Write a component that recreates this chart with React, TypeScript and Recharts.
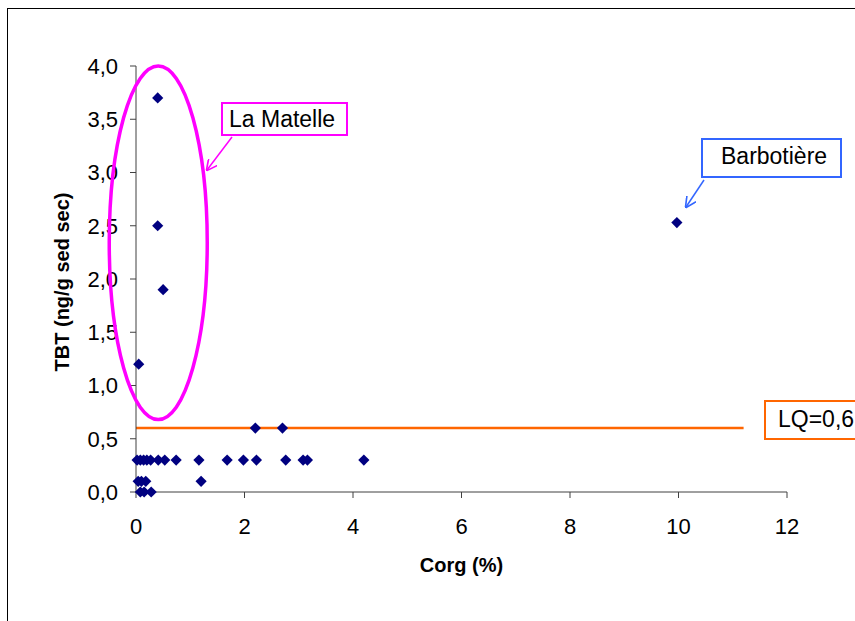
import { ScatterChart, Scatter, XAxis, YAxis, ReferenceLine } from "recharts";

// Corg (%) vs TBT (ng/g sed sec), one entry per sample
const corg = [
  0.02, 0.08, 0.14, 0.2, 0.27, 0.41, 0.53, 0.74, 1.16, 1.68, 1.98, 2.22, 2.76, 3.08, 3.16, 4.2,
  2.2, 2.7,
  0.04, 0.1, 0.18, 1.2,
  0.08, 0.15, 0.28,
  0.4, 0.4, 0.5, 0.05,
  9.97,
];
const tbt = [
  0.3, 0.3, 0.3, 0.3, 0.3, 0.3, 0.3, 0.3, 0.3, 0.3, 0.3, 0.3, 0.3, 0.3, 0.3, 0.3,
  0.6, 0.6,
  0.1, 0.1, 0.1, 0.1,
  0, 0, 0,
  3.7, 2.5, 1.9, 1.2,
  2.53,
];
const xTicks = [0, 2, 4, 6, 8, 10, 12];
const yTicks = [0, 0.5, 1, 1.5, 2, 2.5, 3, 3.5, 4];
const lq = 0.6;
const lqEnd = 11.2;

const points = corg.map((x, i) => ({ x, y: tbt[i] }));

const W = 855;
const H = 621;
const M = { top: 66, right: 68, left: 56, bottom: 99 };
const Y_AXIS_W = 80;
const X_AXIS_H = 30;
const FONT = "'Liberation Sans', Arial, sans-serif";

// same mapping the chart uses, for the hand-drawn callouts
const plotX0 = M.left + Y_AXIS_W;
const plotX1 = W - M.right;
const plotY0 = M.top;
const plotY1 = H - M.bottom - X_AXIS_H;
const px = (v: number) => plotX0 + (v / 12) * (plotX1 - plotX0);
const py = (v: number) => plotY1 - (v / 4) * (plotY1 - plotY0);

const Diamond = (props: any) => {
  const { cx, cy } = props;
  const r = 5.6;
  return (
    <polygon
      points={`${cx},${cy - r} ${cx + r},${cy} ${cx},${cy + r} ${cx - r},${cy}`}
      fill="#000080"
    />
  );
};

const xTitle = (props: any) => {
  const vb = props.viewBox || {};
  return (
    <text
      x={vb.x + vb.width / 2}
      y={vb.y + 80}
      textAnchor="middle"
      fontFamily={FONT}
      fontSize={20}
      fontWeight="bold"
      fill="#000"
    >
      Corg (%)
    </text>
  );
};

const yTitle = (props: any) => {
  const vb = props.viewBox || {};
  const x = vb.x + 13;
  const y = vb.y + vb.height / 2 + 3;
  return (
    <text
      x={x}
      y={y}
      transform={`rotate(-90 ${x} ${y})`}
      textAnchor="middle"
      fontFamily={FONT}
      fontSize={20}
      fontWeight="bold"
      fill="#000"
    >
      TBT (ng/g sed sec)
    </text>
  );
};

function Callouts() {
  return (
    <svg
      width={W}
      height={H}
      style={{ position: "absolute", left: 0, top: 0, pointerEvents: "none" }}
      fontFamily={FONT}
    >
      <defs>
        <marker id="arrM" viewBox="0 0 10 10" refX="9" refY="5" markerWidth="11" markerHeight="11" markerUnits="userSpaceOnUse" orient="auto">
          <path d="M0,0 L10,5 L0,10" fill="none" stroke="#FF00FF" strokeWidth="1.5" />
        </marker>
        <marker id="arrB" viewBox="0 0 10 10" refX="9" refY="5" markerWidth="11" markerHeight="11" markerUnits="userSpaceOnUse" orient="auto">
          <path d="M0,0 L10,5 L0,10" fill="none" stroke="#3366FF" strokeWidth="1.5" />
        </marker>
      </defs>

      {/* La Matelle */}
      <ellipse cx={px(0.41)} cy={py(2.34)} rx={49} ry={py(0.68) - py(2.34)} fill="none" stroke="#FF00FF" strokeWidth={3.5} />
      <rect x={222} y={103} width={125} height={32} fill="#fff" stroke="#FF00FF" strokeWidth={2} />
      <text x={229} y={127} fontSize={23} fill="#000">La Matelle</text>
      <line x1={232} y1={137} x2={207} y2={170} stroke="#FF00FF" strokeWidth={1.5} markerEnd="url(#arrM)" />

      {/* Barbotière */}
      <rect x={702} y={139} width={139} height={38} fill="#fff" stroke="#3366FF" strokeWidth={2} />
      <text x={721} y={164} fontSize={23} fill="#000">Barbotière</text>
      <line x1={704} y1={180} x2={686} y2={207} stroke="#3366FF" strokeWidth={1.5} markerEnd="url(#arrB)" />

      {/* LQ */}
      <rect x={765} y={401} width={100} height={38} fill="#fff" stroke="#FF6600" strokeWidth={2} />
      <text x={778} y={427} fontSize={23} fill="#000">LQ=0,6</text>
    </svg>
  );
}

export default function App() {
  return (
    <div style={{ position: "fixed", left: 0, top: 0, width: W, height: H, overflow: "hidden", background: "#fff" }}>
      <div style={{ position: "absolute", left: 7, top: 8, width: 900, height: 700, border: "1px solid #000" }} />
      <div style={{ position: "absolute", left: 0, top: 0 }}>
        <ScatterChart width={W} height={H} margin={M}>
          <XAxis
            type="number"
            dataKey="x"
            domain={[0, 12]}
            ticks={xTicks}
            interval={0}
            height={X_AXIS_H}
            tickSize={6}
            tickMargin={20}
            stroke="#404040"
            tick={{ fill: "#000", fontSize: 22, fontFamily: FONT }}
            label={{ content: xTitle }}
          />
          <YAxis
            type="number"
            dataKey="y"
            domain={[0, 4]}
            ticks={yTicks}
            interval={0}
            width={Y_AXIS_W}
            tickSize={6}
            tickMargin={12}
            stroke="#404040"
            tickFormatter={(v: number) => v.toFixed(1).replace(".", ",")}
            tick={{ fill: "#000", fontSize: 22, fontFamily: FONT }}
            label={{ content: yTitle }}
          />
          <ReferenceLine
            segment={[{ x: 0, y: lq }, { x: lqEnd, y: lq }]}
            stroke="#FF6600"
            strokeWidth={2.5}
          />
          <Scatter data={points} shape={Diamond} isAnimationActive={false} />
        </ScatterChart>
      </div>
      <Callouts />
    </div>
  );
}
